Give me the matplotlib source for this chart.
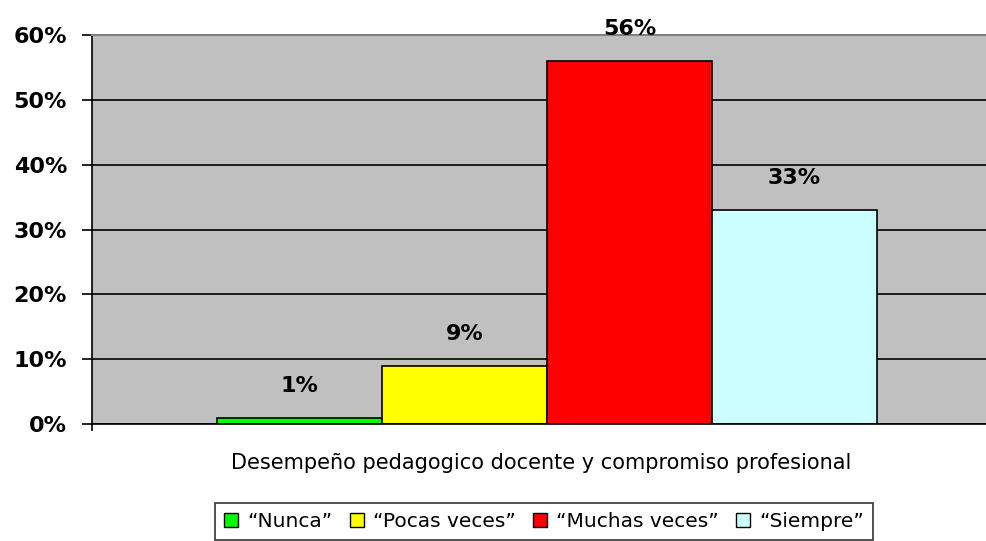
import matplotlib.pyplot as plt
from matplotlib.patches import Patch

# data
categories = ['\u201cNunca\u201d', '\u201cPocas veces\u201d', '\u201cMuchas veces\u201d', '\u201cSiempre\u201d']
values = [1, 9, 56, 33]
colors = ['#00FF00', '#FFFF00', '#FF0000', '#CCFFFF']
yticks = [0, 10, 20, 30, 40, 50, 60]
xlabel = 'Desempeño pedagogico docente y compromiso profesional'

plt.rcParams['font.family'] = ['DejaVu Sans']

fig = plt.figure(figsize=(9.87, 5.41), dpi=100)
ax = fig.add_axes([92 / 987, 1 - 424 / 541, 1 - 92 / 987, (424 - 35) / 541])
ax.set_facecolor('#C0C0C0')
ax.set_axisbelow(True)

offsets = [-1.5, -0.5, 0.5, 1.5]
for off, v, c in zip(offsets, values, colors):
    ax.bar(off, v, width=1.0, color=c, edgecolor='black', linewidth=1.2)
    ax.annotate(f'{v}%', (off, v), xytext=(0, 23), textcoords='offset points',
                ha='center', va='center', fontsize=16, fontweight='bold',
                annotation_clip=False)

ax.set_xlim(-2.758, 2.667)
ax.set_ylim(0, 60)
ax.set_yticks(yticks)
ax.set_yticklabels([f'{t}%' for t in yticks], fontsize=16, fontweight='bold')
ax.tick_params(axis='y', length=7, width=1.2, pad=11)
ax.set_xticks([-2.758])
ax.set_xticklabels([''])
ax.tick_params(axis='x', length=5, width=1.2)
ax.yaxis.grid(True, color='black', linewidth=1.2)

ax.spines['right'].set_visible(False)
ax.spines['top'].set_color('#808080')
ax.spines['top'].set_linewidth(1.5)
ax.spines['left'].set_linewidth(1.2)
ax.spines['bottom'].set_linewidth(1.2)

fig.text((225 + 857) / 2 / 987, 1 - 463 / 541, xlabel, ha='center', va='center',
         fontsize=15)

handles = [Patch(facecolor=c, edgecolor='black', linewidth=1) for c in colors]
leg = fig.legend(handles, categories, loc='upper center', ncol=4,
                 bbox_to_anchor=(544 / 987, 1 - 503 / 541),
                 frameon=True, fancybox=False, edgecolor='black',
                 prop={'size': 14.5},
                 handlelength=0.7, handleheight=0.7, handletextpad=0.45,
                 columnspacing=0.85, borderpad=0.45, borderaxespad=0)
leg.get_frame().set_linewidth(1.2)

fig.savefig('out.png', dpi=100)
